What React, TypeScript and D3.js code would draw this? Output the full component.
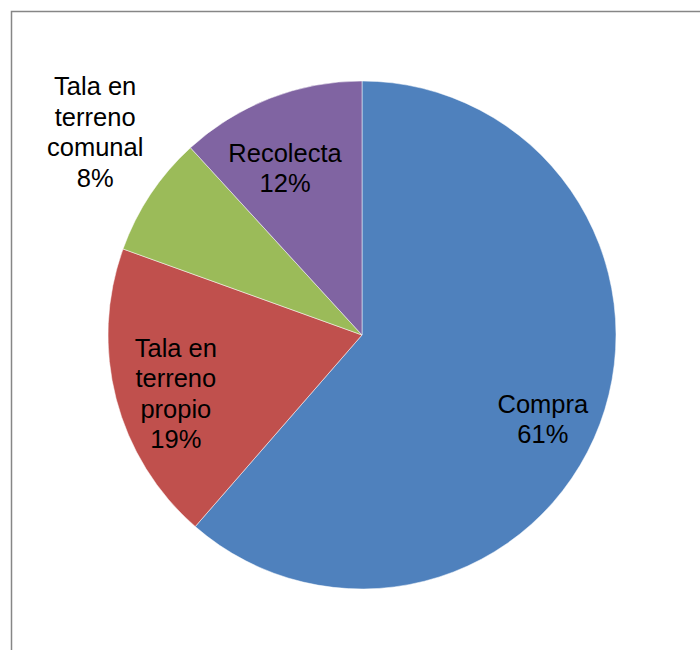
import React from "react";
import * as d3 from "d3";

// fuentes de leña (share of households, %)
const categories = ["Compra", "Tala en terreno propio", "Tala en terreno comunal", "Recolecta"];
const values = [61.4, 19.1, 7.7, 11.8];
const labelLines = [["Compra"], ["Tala en", "terreno", "propio"], ["Tala en", "terreno", "comunal"], ["Recolecta"]];
const colors = ["#4F81BD", "#C0504D", "#9BBB59", "#8064A2"];

// label placement: radius as a fraction of the pie radius, and a small angle nudge (degrees)
const labelRadius = [0.785, 0.768, 1.32, 0.724];
const labelNudge = [4.4, -2.8, 3.6, -3.5];

const width = 700;
const height = 650;
const cx = 362;
const cy = 335;
const radius = 254;
const fontSize = 25.5;
const lineHeight = 30.5;

const App = () => {
  const total = d3.sum(values);
  const data = categories.map((c, i) => ({ name: c, value: values[i], i }));

  const pie = d3
    .pie<{ name: string; value: number; i: number }>()
    .sort(null)
    .value((d) => d.value);

  const arc = d3
    .arc<d3.PieArcDatum<{ name: string; value: number; i: number }>>()
    .innerRadius(0)
    .outerRadius(radius);

  const arcs = pie(data);

  return (
    <svg
      width={width}
      height={height}
      style={{ position: "absolute", left: 0, top: 0, background: "#fff" }}
    >
      <rect
        x={11.5}
        y={11.5}
        width={width + 20}
        height={height + 20}
        fill="#fff"
        stroke="#868686"
        strokeWidth={1.5}
      />
      <g transform={`translate(${cx},${cy})`}>
        {arcs.map((d) => (
          <path
            key={d.data.name}
            d={arc(d) || ""}
            fill={colors[d.data.i]}
            stroke="#fff"
            strokeWidth={0.5}
          />
        ))}
        {arcs.map((d) => {
          const i = d.data.i;
          const mid = (d.startAngle + d.endAngle) / 2 + (labelNudge[i] * Math.PI) / 180;
          const r = radius * labelRadius[i];
          const x = Math.sin(mid) * r;
          const y = -Math.cos(mid) * r;
          const lines = [...labelLines[i], `${Math.round((d.data.value / total) * 100)}%`];
          const capHeight = fontSize * 0.716;
          const firstBaseline = y - ((lines.length - 1) * lineHeight) / 2 + capHeight / 2;
          return (
            <text
              key={`l-${d.data.name}`}
              textAnchor="middle"
              fontFamily="'Liberation Sans', Arial, sans-serif"
              fontSize={fontSize}
              fill="#000"
            >
              {lines.map((t, k) => (
                <tspan key={k} x={x} y={firstBaseline + k * lineHeight}>
                  {t}
                </tspan>
              ))}
            </text>
          );
        })}
      </g>
    </svg>
  );
};

export default App;
